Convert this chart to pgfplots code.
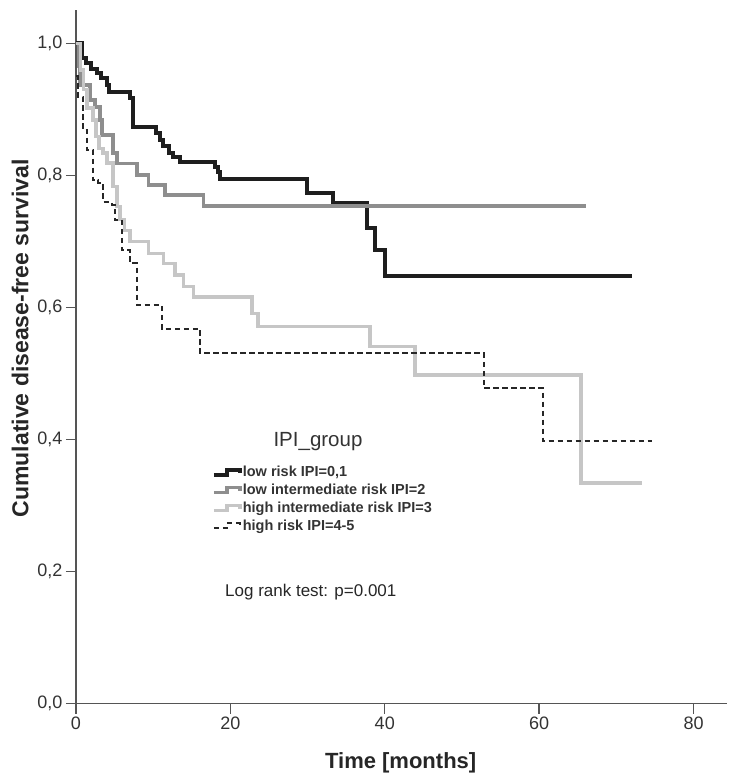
\documentclass[border=0pt]{standalone}
\usepackage{pgfplots}
\pgfplotsset{compat=1.18}
\usepackage{fontspec}
\setmainfont{Liberation Sans}
\definecolor{axgray}{HTML}{555555}
\definecolor{cblack}{HTML}{1E1E1E}
\definecolor{cgray}{HTML}{8E8E8E}
\definecolor{clight}{HTML}{C6C6C6}
\begin{document}
\begin{tikzpicture}[x=1pt,y=1pt]
\useasboundingbox (-76,-79.5) rectangle (663,703.5);
\begin{axis}[
  at={(0,0)}, anchor=south west,
  scale only axis, width=650.7pt, height=693pt,
  xmin=0, xmax=84.3, ymin=0, ymax=1.05,
  axis x line=bottom, axis y line=left,
  axis line style={-, draw=axgray, line width=1.3pt},
  tick align=outside,
  major tick length=10pt,
  every tick/.style={draw=axgray, line width=1.3pt},
  xtick={0,20,40,60,80},
  ytick={0,0.2,0.4,0.6,0.8,1.0},
  /pgf/number format/assume math mode=true,
  yticklabel style={/pgf/number format/.cd, fixed, fixed zerofill, precision=1, use comma},
  ticklabel style={font=\fontsize{18}{20}\selectfont, text=black!80},
  xlabel={\textbf{Time [months]}},
  ylabel={\textbf{Cumulative disease-free survival}},
  every axis x label/.style={at={(axis description cs:0.499,-0.0859)}, anchor=center, font=\fontsize{22}{26}\selectfont, text=black!85},
  every axis y label/.style={at={(axis description cs:-0.086,0.527)}, anchor=center, rotate=90, font=\fontsize{23}{26}\selectfont, text=black!85},
  legend style={at={(axis cs:17.6,0.361)}, anchor=north west, draw=none, fill=none,
    font=\bfseries\fontsize{14.5}{15}\selectfont, text=black!80, inner sep=0pt, outer sep=0pt,
    row sep=3.8pt, nodes={inner sep=1pt}},
  legend cell align=left,
  legend image code/.code={\draw[#1] (0pt,-2.5pt) -- (13pt,-2.5pt) -- (13pt,2.5pt) -- (26pt,2.5pt) -- (26pt,-1pt);},
  clip=false,
]
\addplot[cblack, line width=4pt, const plot] coordinates {
(0,1.0) (0.8,0.978) (1.3,0.970) (2.0,0.962) (2.7,0.955) (3.3,0.947) (4.0,0.937)
(4.3,0.927) (7.0,0.917) (7.4,0.874) (10.4,0.864) (10.9,0.854) (11.3,0.844)
(12.0,0.834) (12.6,0.828) (13.5,0.821) (18.0,0.813) (18.4,0.806) (18.7,0.795)
(29.9,0.774) (33.3,0.758) (37.7,0.721) (38.7,0.687) (40.0,0.647) (72.0,0.647)};
\addlegendentry{low risk IPI=0,1}
\addplot[cgray, line width=3.6pt, const plot] coordinates {
(0,1.0) (0.3,0.965) (0.5,0.937) (1.8,0.914) (2.5,0.904) (3.1,0.884) (3.4,0.861)
(4.8,0.834) (5.3,0.818) (7.9,0.801) (9.4,0.786) (11.5,0.770) (16.5,0.754) (66.1,0.754)};
\addlegendentry{low intermediate risk IPI=2}
\addplot[clight, line width=3.4pt, const plot] coordinates {
(0,1.0) (0.6,0.960) (1.0,0.930) (1.4,0.902) (2.2,0.884) (2.6,0.859) (3.0,0.841)
(3.5,0.834) (4.0,0.819) (4.8,0.783) (5.3,0.753) (5.7,0.733) (6.3,0.717) (7.0,0.700)
(9.4,0.682) (11.3,0.667) (12.8,0.649) (13.9,0.632) (15.2,0.616) (22.8,0.591)
(23.6,0.571) (38.1,0.541) (43.9,0.498) (65.4,0.334) (73.3,0.334)};
\addlegendentry{high intermediate risk IPI=3}
\addplot[black!85, line width=2pt, dash pattern=on 5.5pt off 3.5pt, const plot] coordinates {
(0,0.95) (0.3,0.919) (0.95,0.869) (1.4,0.839) (2.2,0.793) (2.9,0.788) (3.5,0.760)
(4.6,0.755) (5.0,0.733) (5.9,0.687) (7.0,0.667) (7.9,0.604) (11.1,0.568)
(16.1,0.531) (52.8,0.478) (60.5,0.398) (74.6,0.398)};
\addlegendentry{high risk IPI=4-5}
\node[font=\fontsize{20.5}{22}\selectfont, text=black!80, anchor=center] at (axis cs:31.35,0.3967) {IPI\_group};
\node[font=\fontsize{17}{19}\selectfont, text=black!85, anchor=west] at (axis cs:18.87,0.1694) {Log rank test: p=0.001};
\end{axis}
\end{tikzpicture}
\end{document}
